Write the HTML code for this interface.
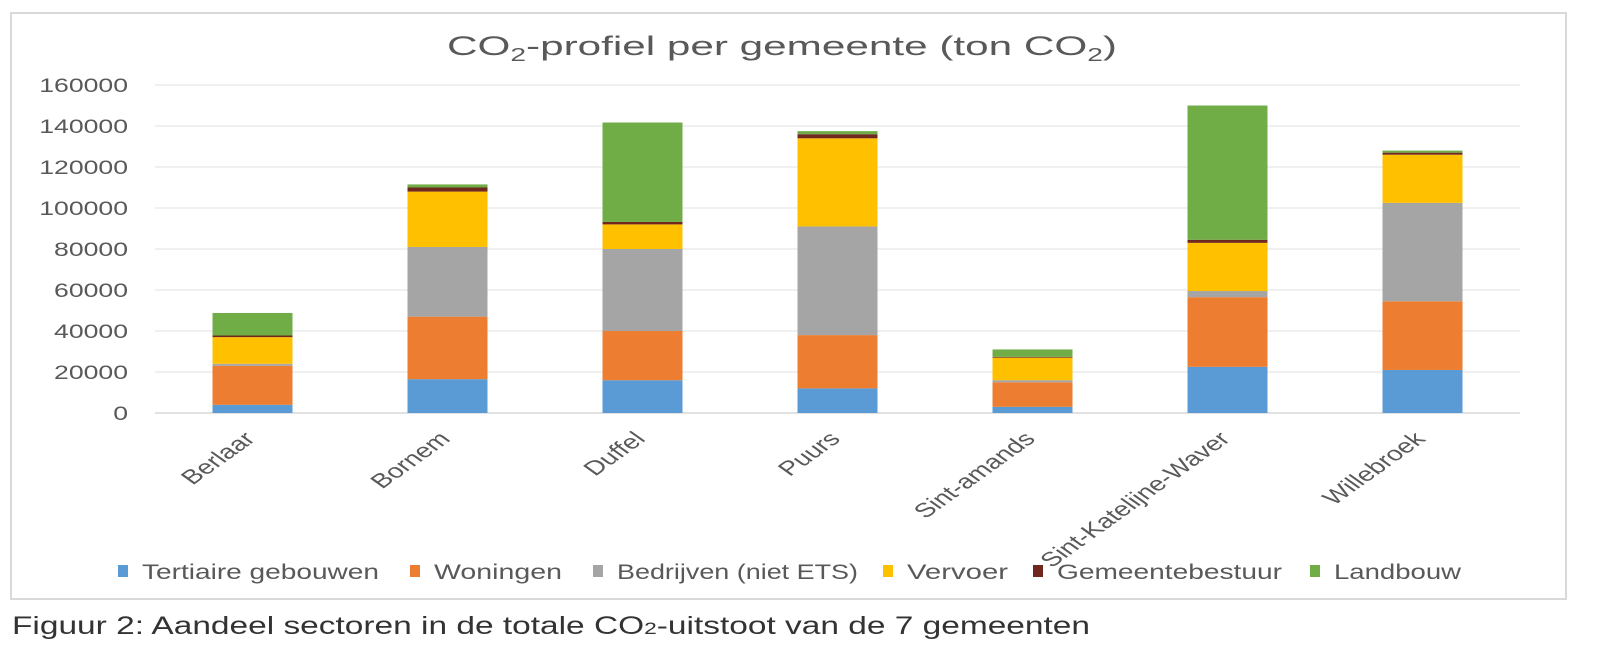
<!DOCTYPE html>
<html><head><meta charset="utf-8"><style>
body{margin:0;background:#fff;width:1600px;height:640px;overflow:hidden;font-family:"Liberation Sans",sans-serif}
</style></head><body>
<svg width="1600" height="640" xmlns="http://www.w3.org/2000/svg">
<rect x="11" y="13" width="1555" height="586" fill="#fff" stroke="#d9d9d9" stroke-width="2"/>
<text x="447" y="55" font-size="27" fill="#595959" textLength="670" lengthAdjust="spacingAndGlyphs">CO<tspan font-size="18" dy="6">2</tspan><tspan dy="-6">-profiel per gemeente (ton CO</tspan><tspan font-size="18" dy="6">2</tspan><tspan dy="-6">)</tspan></text>
<g id="grid"></g><g id="bars"></g><g id="xl"></g><g id="legend"></g>
<text x="12" y="634" font-size="25" fill="#333" textLength="1078" lengthAdjust="spacingAndGlyphs">Figuur 2: Aandeel sectoren in de totale CO<tspan font-size="17">2</tspan>-uitstoot van de 7 gemeenten</text>
</svg>
<script>
const categories=["Berlaar","Bornem","Duffel","Puurs","Sint-amands","Sint-Katelijne-Waver","Willebroek"];
const seriesNames=["Tertiaire gebouwen","Woningen","Bedrijven (niet ETS)","Vervoer","Gemeentebestuur","Landbouw"];
const tertiair=[4000,16500,16000,12000,3000,22500,21000];
const woningen=[19000,30500,24000,26000,12000,34000,33500];
const bedrijven=[1000,34000,40000,53000,1000,3000,48000];
const vervoer=[13000,27000,12000,43000,11000,23500,23500];
const gemeente=[800,2000,1200,2000,400,1500,1000];
const landbouw=[11000,1500,48500,1500,3600,65500,1000];
const yTicks=[0,20000,40000,60000,80000,100000,120000,140000,160000];
const colors=["#5b9bd5","#ed7d31","#a5a5a5","#ffc000","#70281e","#70ad47"];
const series=[tertiair,woningen,bedrijven,vervoer,gemeente,landbouw];
const NS="http://www.w3.org/2000/svg";
const x0=155,x1=1520,y0=413,y1=85,yMax=160000;
const y=v=>y0-(v/yMax)*(y0-y1);
const band=(x1-x0)/categories.length;
const xc=i=>x0+band*(i+0.5);
const bw=80;
function mk(t,a,p){const e=document.createElementNS(NS,t);for(const k in a)e.setAttribute(k,a[k]);p.appendChild(e);return e;}
const g=document.getElementById('grid');
yTicks.forEach(v=>{
 const l=mk('line',{x1:x0,x2:x1,y1:y(v),y2:y(v),stroke:v===0?'#d0d0d0':'#e6e6e6','stroke-width':1.3},g);
 
 
 const t=mk('text',{x:0,y:0,'text-anchor':'end','font-size':19,fill:'#595959',transform:`translate(128 ${y(v)+7}) scale(1.4 1)`},g);
 t.textContent=v;
 
 
});
const b=document.getElementById('bars');
categories.forEach((c,i)=>{
 let cum=0;
 series.forEach((s,k)=>{
  const r=mk('rect',{x:xc(i)-bw/2,y:y(cum+s[i]),width:bw,height:y(cum)-y(cum+s[i]),fill:colors[k]},b);
  
  
  cum+=s[i];
 });
 const t=mk('text',{x:0,y:0,'text-anchor':'end','font-size':20,fill:'#595959',transform:`translate(${xc(i)+4} 440) scale(1.4 1) rotate(-45)`},document.getElementById('xl'));
 t.textContent=c;
 
 
});
const lg=document.getElementById('legend');
const lx=[118,410,593,883,1033,1310];
const lw=[237,128,241,101,225,127];
seriesNames.forEach((n,k)=>{
 const r=mk('rect',{x:lx[k],y:565,width:10,height:12,fill:colors[k]},lg);
 
 
 const t=mk('text',{x:lx[k]+24,y:579,'font-size':21,fill:'#595959',textLength:lw[k],lengthAdjust:'spacingAndGlyphs'},lg);
 t.textContent=n;
 
 
});
</script>
</body></html>
